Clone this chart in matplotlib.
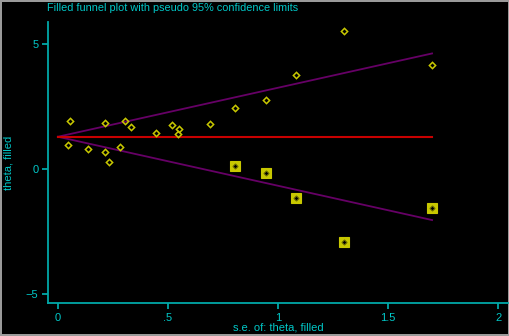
import matplotlib
matplotlib.use("Agg")
import matplotlib.pyplot as plt
import numpy as np

# observed studies (s.e., theta)
se_obs = [0.055, 0.045, 0.136, 0.215, 0.212, 0.23, 0.282, 0.303, 0.33, 0.447,
          0.517, 0.55, 0.547, 0.692, 0.803, 0.944, 1.082, 1.30, 1.70]
theta_obs = [1.92, 0.96, 0.79, 1.84, 0.68, 0.27, 0.87, 1.92, 1.67, 1.43,
             1.76, 1.60, 1.40, 1.79, 2.44, 2.75, 3.75, 5.51, 4.16]

# filled (imputed) studies
se_fill = [0.803, 0.944, 1.082, 1.30, 1.70]
theta_fill = [0.13, -0.16, -1.16, -2.93, -1.57]

pooled = 1.29
se_max = 1.70

xticks = [0, 0.5, 1, 1.5, 2]
xtick_labels = ["0", ".5", "1", "1.5", "2"]
yticks = [-5, 0, 5]

cyan = "#00c8c8"
teal = "#00a8a8"
yellow = "#c8c800"

plt.rcParams["font.family"] = ["Liberation Sans", "DejaVu Sans"]

fig = plt.figure(figsize=(5.1, 3.36), dpi=100, facecolor="black",
                 edgecolor="#9a9a9a", linewidth=1.5)
ax = fig.add_axes([48 / 510, 33 / 336, 460 / 510, 281 / 336])
ax.set_facecolor("black")

# pseudo 95% limits
s = np.array([0, se_max])
ax.plot(s, pooled + 1.96 * s, color="#660066", lw=1.3)
ax.plot(s, pooled - 1.96 * s, color="#660066", lw=1.3)
ax.plot(s, [pooled, pooled], color="#c80000", lw=1.5)

ax.plot(se_obs, theta_obs, linestyle="none", marker="D", markersize=3.2,
        markerfacecolor="none", markeredgecolor=yellow, markeredgewidth=1.1)
ax.plot(se_fill, theta_fill, linestyle="none", marker="s", markersize=6.5,
        markerfacecolor=yellow, markeredgecolor=yellow, markeredgewidth=0.8)
ax.plot(se_fill, theta_fill, linestyle="none", marker="D", markersize=2.6,
        markerfacecolor="black", markeredgecolor="#707000", markeredgewidth=0.8)

ax.set_xlim(-0.045, 2.045)
ax.set_ylim(-5.36, 5.88)
ax.set_xticks(xticks)
ax.set_xticklabels(xtick_labels)
ax.set_yticks(yticks)

for side in ["top", "right"]:
    ax.spines[side].set_visible(False)
for side in ["left", "bottom"]:
    ax.spines[side].set_color(teal)
    ax.spines[side].set_linewidth(1.3)
ax.tick_params(colors=teal, labelcolor=cyan, labelsize=8, length=4,
               width=1.3, pad=3)

ax.set_xlabel("s.e. of: theta, filled", color=cyan, fontsize=8, labelpad=0)
ax.set_ylabel("theta, filled", color=cyan, fontsize=8)
ax.yaxis.set_label_coords(-0.074, 0.5)

fig.text(47 / 510, 1 - 8 / 336, "Filled funnel plot with pseudo 95% confidence limits",
         color=cyan, fontsize=7.8, ha="left", va="center")

fig.savefig("out.png", dpi=100, facecolor="black", edgecolor="#9a9a9a")
